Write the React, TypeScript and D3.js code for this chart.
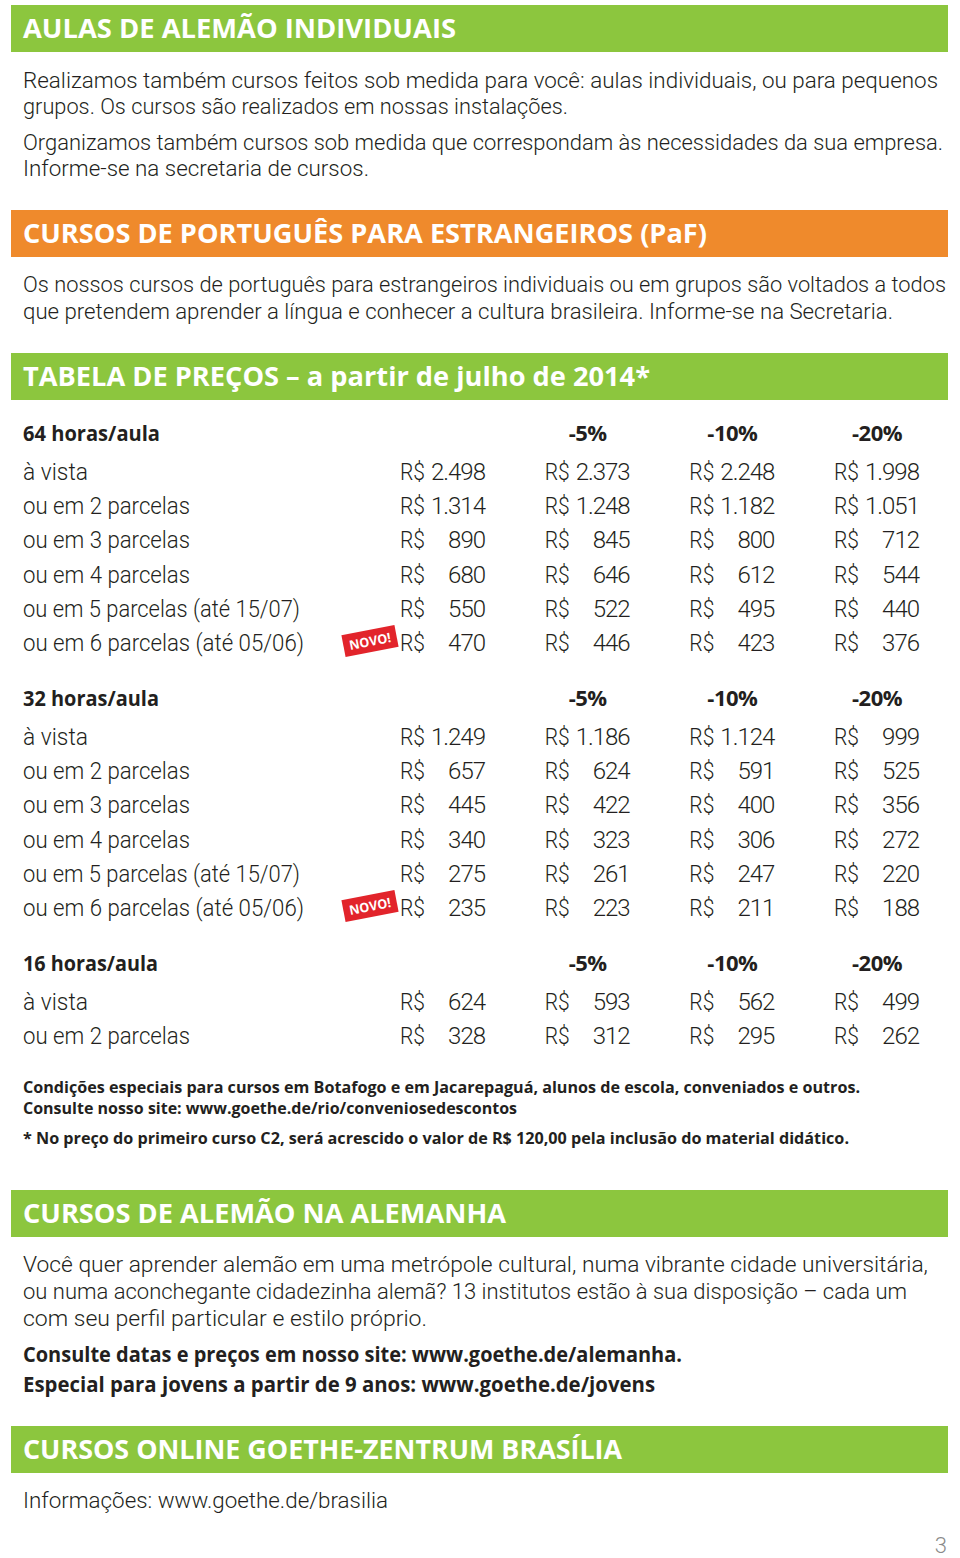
import React from "react";
import * as d3 from "d3";

const GREEN = "#8cc63e";
const ORANGE = "#ef8a2c";
const INK = "#231f20";
const FONT = "Roboto, 'Open Sans', 'DejaVu Sans', sans-serif";
const BOLD_FONT = "'Open Sans', Roboto, sans-serif";

// section titles: [text, bar top, colour, text width]
const titles: [string, number, string, number][] = [
  ["AULAS DE ALEMÃO INDIVIDUAIS", 5, GREEN, 433],
  ["CURSOS DE PORTUGUÊS PARA ESTRANGEIROS (PaF)", 210, ORANGE, 684],
  ["TABELA DE PREÇOS – a partir de julho de 2014*", 353, GREEN, 627],
  ["CURSOS DE ALEMÃO NA ALEMANHA", 1190, GREEN, 483],
  ["CURSOS ONLINE GOETHE-ZENTRUM BRASÍLIA", 1426, GREEN, 599],
];

// body lines: [text, baseline, width, bold, size]
const bodyLines: [string, number, number, boolean, number][] = [
  ["Realizamos também cursos feitos sob medida para você: aulas individuais, ou para pequenos", 88, 915, false, 22],
  ["grupos. Os cursos são realizados em nossas instalações.", 114, 545, false, 22],
  ["Organizamos também cursos sob medida que correspondam às necessidades da sua empresa.", 150, 920, false, 22],
  ["Informe-se na secretaria de cursos.", 176, 346, false, 22],
  ["Os nossos cursos de português para estrangeiros individuais ou em grupos são voltados a todos", 292, 923, false, 22],
  ["que pretendem aprender a língua e conhecer a cultura brasileira. Informe-se na Secretaria.", 319, 870, false, 22],
  ["Condições especiais para cursos em Botafogo e em Jacarepaguá, alunos de escola, conveniados e outros.", 1093, 837, true, 16],
  ["Consulte nosso site: www.goethe.de/rio/conveniosedescontos", 1114, 494, true, 16],
  ["* No preço do primeiro curso C2, será acrescido o valor de R$ 120,00 pela inclusão do material didático.", 1144, 826, true, 16],
  ["Você quer aprender alemão em uma metrópole cultural, numa vibrante cidade universitária,", 1272, 905, false, 22],
  ["ou numa aconchegante cidadezinha alemã? 13 institutos estão à sua disposição – cada um", 1299, 884, false, 22],
  ["com seu perfil particular e estilo próprio.", 1326, 404, false, 22],
  ["Consulte datas e preços em nosso site: www.goethe.de/alemanha.", 1362, 659, true, 21],
  ["Especial para jovens a partir de 9 anos: www.goethe.de/jovens", 1392, 632, true, 21],
  ["Informações: www.goethe.de/brasilia", 1508, 365, false, 22],
];

const discounts = ["", "-5%", "-10%", "-20%"];

// price table blocks
const blockTitles = ["64 horas/aula", "32 horas/aula", "16 horas/aula"];
const blockTitleWidths = [137, 136, 135];
const blockHeaderY = [432, 697, 962];

const labels64 = ["à vista", "ou em 2 parcelas", "ou em 3 parcelas", "ou em 4 parcelas", "ou em 5 parcelas (até 15/07)", "ou em 6 parcelas (até 05/06)"];
const labels16 = ["à vista", "ou em 2 parcelas"];
const labelWidths: Record<string, number> = {
  "à vista": 65,
  "ou em 2 parcelas": 167,
  "ou em 3 parcelas": 167,
  "ou em 4 parcelas": 167,
  "ou em 5 parcelas (até 15/07)": 277,
  "ou em 6 parcelas (até 05/06)": 281,
};

const prices64 = [
  ["2.498", "2.373", "2.248", "1.998"],
  ["1.314", "1.248", "1.182", "1.051"],
  ["890", "845", "800", "712"],
  ["680", "646", "612", "544"],
  ["550", "522", "495", "440"],
  ["470", "446", "423", "376"],
];
const prices32 = [
  ["1.249", "1.186", "1.124", "999"],
  ["657", "624", "591", "525"],
  ["445", "422", "400", "356"],
  ["340", "323", "306", "272"],
  ["275", "261", "247", "220"],
  ["235", "223", "211", "188"],
];
const prices16 = [
  ["624", "593", "562", "499"],
  ["328", "312", "295", "262"],
];

const blocks = [
  { labels: labels64, prices: prices64, novo: true },
  { labels: labels64, prices: prices32, novo: true },
  { labels: labels16, prices: prices16, novo: false },
];

export default function App() {
  const W = 960;
  const H = 1558;

  // column position: R$ sign left edge; number right edge = +85
  const col = d3.scaleLinear().domain([0, 3]).range([400, 834]);
  // row centre within a block: header at 0, rows start after
  const rowY = (base: number) => d3.scaleLinear().domain([0, 1]).range([base + 39, base + 73.2]);

  return (
    <div style={{ position: "absolute", left: 0, top: 0 }}>
      <svg width={W} height={H} style={{ display: "block", background: "#fff" }} fontFamily={FONT}>
        {titles.map(([t, top, c, w]) => (
          <g key={t}>
            <rect x={11} y={top} width={937} height={47} fill={c} />
            <text x={23} y={top + 33} fontSize={27} fontFamily={BOLD_FONT} fontWeight={700} fill="#fff" textLength={w} lengthAdjust="spacingAndGlyphs">
              {t}
            </text>
          </g>
        ))}

        {bodyLines.map(([t, y, w, b, s]) => (
          <text key={t} x={23} y={y} fontSize={s} fontFamily={b ? BOLD_FONT : FONT} fontWeight={b ? 700 : 300} fill={INK} textLength={w} lengthAdjust="spacingAndGlyphs">
            {t}
          </text>
        ))}

        {blocks.map((blk, bi) => {
          const base = blockHeaderY[bi];
          const y = rowY(base);
          return (
            <g key={bi}>
              <text x={23} y={base + 9} fontSize={22} fontFamily={BOLD_FONT} fontWeight={700} fill={INK} textLength={blockTitleWidths[bi]} lengthAdjust="spacingAndGlyphs">
                {blockTitles[bi]}
              </text>
              {discounts.map((d, i) =>
                d ? (
                  <text key={d} x={col(i) + 43} y={base + 9} fontSize={22} fontFamily={BOLD_FONT} fontWeight={700} fill={INK} textAnchor="middle" letterSpacing={-0.5}>
                    {d}
                  </text>
                ) : null
              )}
              {blk.labels.map((lab, r) => (
                <g key={lab}>
                  <text x={23} y={y(r) + 9} fontSize={23} fontWeight={300} fill={INK} textLength={labelWidths[lab]} lengthAdjust="spacingAndGlyphs">
                    {lab}
                  </text>
                  {blk.prices[r].map((v, c) => (
                    <g key={c}>
                      <text x={col(c)} y={y(r) + 9} fontSize={24} fontWeight={300} fill={INK} textLength={25} lengthAdjust="spacingAndGlyphs">
                        R$
                      </text>
                      <text x={col(c) + 85} y={y(r) + 9} fontSize={24} fontWeight={300} fill={INK} textAnchor="end" letterSpacing={-1}>
                        {v}
                      </text>
                    </g>
                  ))}
                  {blk.novo && r === blk.labels.length - 1 ? (
                    <g transform={`translate(370, ${y(r) - 1}) rotate(-11)`}>
                      <rect x={-27} y={-11} width={54} height={22} fill="#e2242b" />
                      <text x={0} y={5} fontSize={13} fontFamily={BOLD_FONT} fontWeight={700} fill="#fff" textAnchor="middle" textLength={42} lengthAdjust="spacingAndGlyphs">
                        NOVO!
                      </text>
                    </g>
                  ) : null}
                </g>
              ))}
            </g>
          );
        })}

        <text x={947} y={1553} fontSize={22} fontWeight={300} fill="#8a8a8a" textAnchor="end">
          3
        </text>
      </svg>
    </div>
  );
}
